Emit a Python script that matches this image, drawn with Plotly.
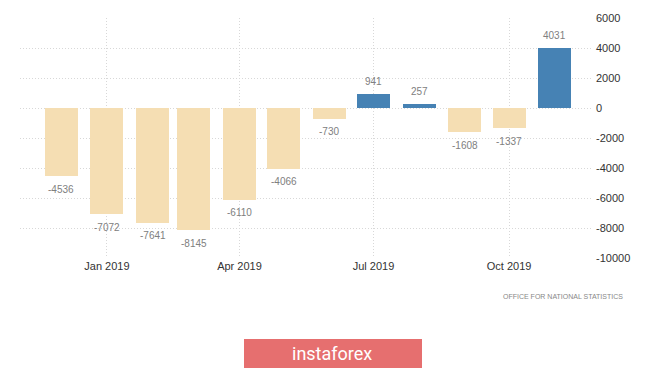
import plotly.graph_objects as go

months = ["2018-12-01", "2019-01-01", "2019-02-01", "2019-03-01", "2019-04-01", "2019-05-01",
          "2019-06-01", "2019-07-01", "2019-08-01", "2019-09-01", "2019-10-01", "2019-11-01"]
values = [-4536, -7072, -7641, -8145, -6110, -4066, -730, 941, 257, -1608, -1337, 4031]
tick_dates = ["2019-01-01", "2019-04-01", "2019-07-01", "2019-10-01"]
tick_labels = ["Jan 2019", "Apr 2019", "Jul 2019", "Oct 2019"]
y_ticks = [6000, 4000, 2000, 0, -2000, -4000, -6000, -8000, -10000]
y_tick_labels = ["6000", "4000", "2000", "0", "-2000", "-4000", "-6000", "-8000", "-10000"]
source = "OFFICE FOR NATIONAL STATISTICS"

NEG = "#F5DEB3"
POS = "#4682B4"
DAY_MS = 86400000

colors = [POS if v >= 0 else NEG for v in values]

# page body has an 8px margin; plot area target in window pixels: x 20..593, y 18..258
OFF = 8
PL, PR, PT, PB = 20, 593, 18, 258
W, H = 665 - OFF, 370 - OFF


def px(x):
    return (x - PL) / (PR - PL)


def py(y):
    return (PB - y) / (PB - PT)


fig = go.Figure()
fig.add_trace(go.Bar(
    x=months, y=values, marker=dict(color=colors, line=dict(width=0)),
    width=[22.4 * DAY_MS] * len(values), hoverinfo="x+y",
))

for m, v in zip(months, values):
    fig.add_annotation(
        x=m, y=v, text=str(v), showarrow=False, yanchor="middle",
        yshift=12.5 if v >= 0 else -13,
        font=dict(family="Liberation Sans, Arial, sans-serif", size=10, color="#808080"),
    )

fig.add_annotation(
    xref="paper", yref="paper", x=px(625), y=py(296),
    xanchor="right", yanchor="middle", text=source, showarrow=False,
    font=dict(family="Liberation Sans, Arial, sans-serif", size=7, color="#888888"),
)

# instaforex logo
fig.add_shape(
    type="rect", xref="paper", yref="paper",
    x0=px(244), x1=px(422), y0=py(368), y1=py(339),
    fillcolor="#E66F6F", line=dict(width=0), layer="above",
)
fig.add_annotation(
    xref="paper", yref="paper", x=px(332), y=py(353),
    xanchor="center", yanchor="middle", text="instaforex", showarrow=False,
    font=dict(family="Roboto, sans-serif", size=18, color="#FFFFFF"),
)

fig.update_layout(
    width=W, height=H,
    margin=dict(l=PL - OFF, r=665 - PR, t=PT - OFF, b=370 - PB, autoexpand=False),
    paper_bgcolor="#FFFFFF", plot_bgcolor="#FFFFFF",
    showlegend=False,
    bargap=0,
    xaxis=dict(
        type="date", range=["2018-11-03", "2019-11-27"], automargin=False,
        tickvals=tick_dates, ticktext=tick_labels,
        showgrid=True, gridcolor="#D8D8D8", griddash="1px,2px", gridwidth=1,
        showline=False, zeroline=False, ticks="",
        tickfont=dict(family="Liberation Sans, Arial, sans-serif", size=11, color="#333333"),
    ),
    yaxis=dict(
        side="right", range=[-10000, 6000], tickvals=y_ticks, ticktext=y_tick_labels,
        automargin=False,
        showgrid=True, gridcolor="#D8D8D8", griddash="1px,2px", gridwidth=1,
        zeroline=False, showline=False, ticks="", ticklabelstandoff=2,
        tickfont=dict(family="Liberation Sans, Arial, sans-serif", size=11, color="#333333"),
    ),
)

fig.write_html("out.html")
